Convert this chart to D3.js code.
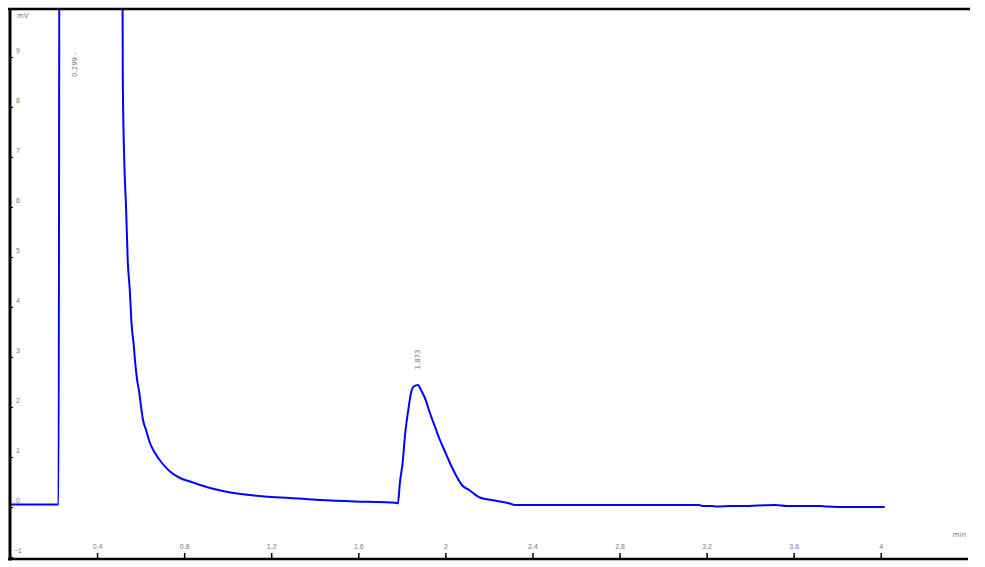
<!DOCTYPE html>
<html>
<head>
<meta charset="utf-8">
<script src="https://cdn.jsdelivr.net/npm/d3@7"></script>
<style>
	body { margin: 0; background: #fff; }
	svg { display: block; font-family: "DejaVu Sans", sans-serif; }
	.tk-tick text { fill: #7a7a7a; font-size: 7px; }
	.tk-peak { fill: #7a7a7a; font-size: 7px; }
</style>
</head>
<body>
<div id="chart"></div>
<script>
// retention time (min) and detector signal (mV)
var timeMin = [0, 0.223, 0.228, 0.515, 0.518, 0.525, 0.533, 0.541, 0.550, 0.559, 0.568, 0.574, 0.584,
	0.593, 0.602, 0.611, 0.625, 0.643, 0.666, 0.698, 0.735, 0.781, 0.827, 0.873, 0.919, 0.988,
	1.079, 1.171, 1.286, 1.424, 1.585, 1.745, 1.777, 1.782, 1.791, 1.805, 1.814, 1.823, 1.832,
	1.842, 1.855, 1.874, 1.888, 1.906, 1.929, 1.952, 1.975, 1.998, 2.021, 2.048, 2.076, 2.112,
	2.158, 2.227, 2.296, 2.319, 2.709, 3.168, 3.178, 3.224, 3.246, 3.311, 3.357, 3.517, 3.568,
	3.605, 3.719, 3.752, 3.857, 4.018];
var signalMv = [0.05, 0.05, 14, 14, 8.63, 6.91, 6.01, 4.91, 4.36, 3.63, 3.26, 2.94, 2.54,
	2.31, 2.01, 1.74, 1.54, 1.28, 1.08, 0.88, 0.71, 0.58, 0.51, 0.44, 0.38, 0.31,
	0.25, 0.21, 0.18, 0.14, 0.11, 0.09, 0.08, 0.07, 0.48, 0.94, 1.41, 1.74, 2.01,
	2.28, 2.41, 2.44, 2.34, 2.18, 1.88, 1.61, 1.34, 1.11, 0.88, 0.64, 0.44, 0.33,
	0.19, 0.13, 0.07, 0.04, 0.04, 0.04, 0.02, 0.02, 0.01, 0.02, 0.02, 0.04, 0.02,
	0.02, 0.02, 0.01, 0.0, 0.0];

var xTicks = [0.4, 0.8, 1.2, 1.6, 2, 2.4, 2.8, 3.2, 3.6, 4];
var yTicks = [-1, 0, 1, 2, 3, 4, 5, 6, 7, 8, 9];
var peakTimes = [0.299, 1.874];
var peakLabels = ["0.299 -", "1.873"];
var peakLabelLevel = [8.6, 2.75];

var W = 985, H = 567,
	m = { top: 9, right: 15, bottom: 8, left: 10 };

var x = d3.scaleLinear().domain([0, 4.41]).range([m.left, W - m.right]);
var y = d3.scaleLinear().domain([-1, 10]).range([H - m.bottom - 2, 7]);

var svg = d3.select("#chart").append("svg")
	.attr("width", W)
	.attr("height", H);

svg.append("defs").append("clipPath")
	.attr("id", "tk-clip")
	.append("rect")
	.attr("x", m.left)
	.attr("y", m.top)
	.attr("width", W - m.right - m.left)
	.attr("height", H - m.bottom - m.top);

// trace
var line = d3.line()
	.curve(d3.curveMonotoneX)
	.x(function (d) { return x(d[0]); })
	.y(function (d) { return y(d[1]); });

svg.append("path")
	.datum(d3.zip(timeMin, signalMv))
	.attr("clip-path", "url(#tk-clip)")
	.attr("d", line)
	.style("fill", "none")
	.style("stroke", "#0000ff")
	.style("stroke-width", 2);

// axes (ticks point into the plot)
var gx = svg.append("g")
	.attr("class", "tk-tick")
	.attr("transform", "translate(0," + (H - m.bottom) + ")")
	.call(d3.axisBottom(x).tickValues(xTicks).tickSizeInner(-6).tickSizeOuter(0).tickPadding(-15)
		.tickFormat(d3.format("")));
gx.select(".domain").remove();
gx.selectAll("line").style("stroke", "#000").style("stroke-width", 1.5);

var gy = svg.append("g")
	.attr("class", "tk-tick")
	.attr("transform", "translate(" + m.left + ",0)")
	.call(d3.axisLeft(y).tickValues(yTicks).tickSizeInner(-3).tickSizeOuter(0).tickPadding(-8)
		.tickFormat(d3.format("")));
gy.select(".domain").remove();
gy.selectAll("line").style("stroke", "#000").style("stroke-width", 1.2);
gy.selectAll("text")
	.attr("text-anchor", "middle")
	.attr("dy", "-0.7em");

// frame: left, top and bottom lines only
svg.append("line")
	.attr("x1", m.left).attr("x2", m.left)
	.attr("y1", m.top - 1).attr("y2", H - m.bottom + 1.5)
	.style("stroke", "#000").style("stroke-width", 3);
svg.append("line")
	.attr("x1", m.left - 2).attr("x2", W - m.right)
	.attr("y1", m.top).attr("y2", m.top)
	.style("stroke", "#000").style("stroke-width", 2.5);
svg.append("line")
	.attr("x1", m.left - 2).attr("x2", W - m.right - 2)
	.attr("y1", H - m.bottom).attr("y2", H - m.bottom)
	.style("stroke", "#000").style("stroke-width", 2.5);

// units
svg.append("text")
	.attr("class", "tk-peak")
	.attr("x", m.left + 7)
	.attr("y", 18)
	.text("mV");
svg.append("text")
	.attr("class", "tk-peak")
	.attr("x", W - m.right - 4)
	.attr("y", H - m.bottom - 22)
	.attr("text-anchor", "end")
	.text("min");

// peak retention labels, rotated
svg.selectAll(".tk-peak-label")
	.data(d3.zip(peakTimes, peakLabelLevel, peakLabels))
	.enter().append("text")
	.attr("class", "tk-peak tk-peak-label")
	.attr("transform", function (d) {
		return "translate(" + (x(d[0]) + 2) + "," + y(d[1]) + ") rotate(-90)";
	})
	.text(function (d) { return d[2]; });
</script>
</body>
</html>
